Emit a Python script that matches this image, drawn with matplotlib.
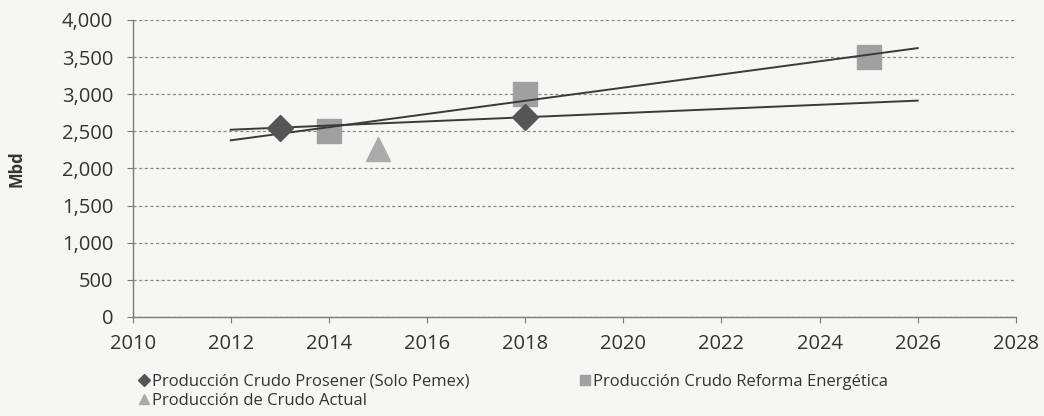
import matplotlib.pyplot as plt
import numpy as np
from matplotlib.ticker import FuncFormatter

plt.rcParams['font.family'] = ['Open Sans', 'DejaVu Sans']

# Data
prosener_years = [2013, 2018]
prosener_vals = [2550, 2690]

reforma_years = [2014, 2018, 2025]
reforma_vals = [2500, 3000, 3500]

actual_years = [2015]
actual_vals = [2260]

trend_range = [2012, 2026]

fig = plt.figure(figsize=(10.44, 4.16), dpi=100)
fig.patch.set_facecolor('#f6f6f4')
ax = fig.add_axes([0.127, 0.238, 0.846, 0.714])
ax.set_facecolor('#f6f6f4')

# Linear trendlines (fit to each series, extended 2012-2026)
tx = np.array(trend_range)
for yrs, vals in [(prosener_years, prosener_vals), (reforma_years, reforma_vals)]:
    m, b = np.polyfit(yrs, vals, 1)
    ax.plot(tx, m * tx + b, color='#3a3a3a', lw=1.4, zorder=3)

ax.plot(prosener_years, prosener_vals, 'D', color='#555555', ms=13,
        label='Producción Crudo Prosener (Solo Pemex)', zorder=4)
ax.plot(reforma_years, reforma_vals, 's', color='#a0a0a0', ms=17,
        label='Producción Crudo Reforma Energética', zorder=2)
ax.plot(actual_years, actual_vals, '^', color='#ababab', ms=17,
        label='Producción de Crudo Actual', zorder=4)

ax.set_xlim(2010, 2028)
ax.set_ylim(0, 4000)
ax.set_xticks(range(2010, 2029, 2))
ax.set_yticks(range(0, 4001, 500))
ax.yaxis.set_major_formatter(FuncFormatter(lambda v, p: f'{int(v):,}'))
ax.grid(axis='y', linestyle=(0, (2.5, 2)), color='#8a8a8a', lw=0.9)
ax.set_axisbelow(True)

for s in ['top', 'right']:
    ax.spines[s].set_visible(False)
for s in ['left', 'bottom']:
    ax.spines[s].set_color('#7a7a7a')
    ax.spines[s].set_linewidth(1.0)
ax.tick_params(colors='#7a7a7a', labelcolor='#333333', labelsize=14.5, length=4)
ax.tick_params(axis='y', pad=10)
ax.tick_params(axis='x', pad=8)

ax.set_ylabel('Mbd', fontsize=12, fontweight='bold', color='#333333', labelpad=26)

h, l = ax.get_legend_handles_labels()
order = [0, 2, 1]
leg = ax.legend([h[i] for i in order], [l[i] for i in order], ncol=2,
                loc='upper left', bbox_to_anchor=(-0.01, -0.14), frameon=False,
                fontsize=12, markerscale=0.45, handlelength=0.6, handletextpad=0.2,
                columnspacing=6.6, labelspacing=0.2, labelcolor='#333333')

fig.savefig('out.png', dpi=100, facecolor=fig.get_facecolor())
